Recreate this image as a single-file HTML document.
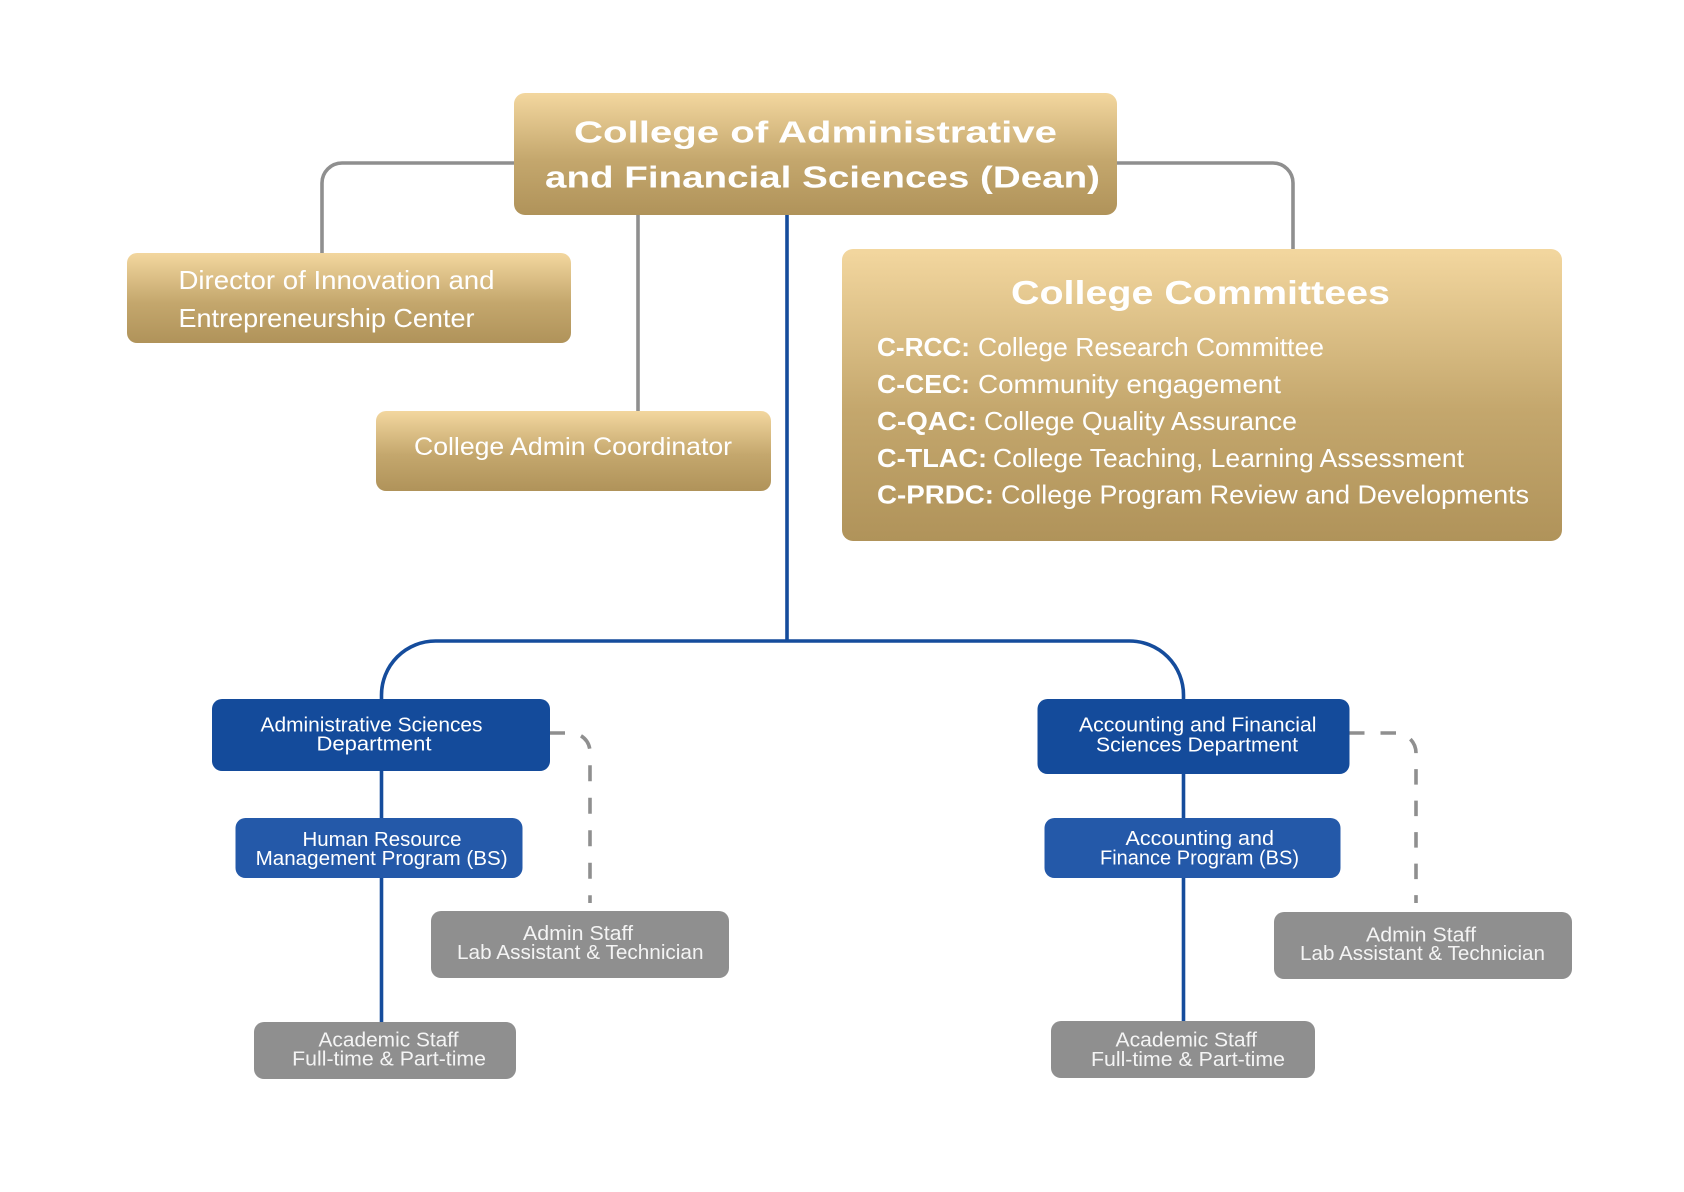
<!DOCTYPE html>
<html>
<head>
<meta charset="utf-8">
<style>
html,body{margin:0;padding:0;background:#ffffff;}
svg{display:block;}
text{font-family:"Liberation Sans",Arial,sans-serif;}
</style>
</head>
<body>
<svg width="1684" height="1192" viewBox="0 0 1684 1192" xmlns="http://www.w3.org/2000/svg">
<defs>
<linearGradient id="gold" x1="0" y1="0" x2="0" y2="1">
<stop offset="0" stop-color="#f3d79f"/>
<stop offset="0.55" stop-color="#c4a76d"/>
<stop offset="1" stop-color="#b0935a"/>
</linearGradient>
</defs>
<rect x="0" y="0" width="1684" height="1192" fill="#ffffff"/>

<!-- grey connectors top -->
<path d="M514,163 H342 A20,20 0 0 0 322,183 V254" fill="none" stroke="#8f8f8f" stroke-width="3.6"/>
<path d="M1116,163 H1273 A20,20 0 0 1 1293,183 V250" fill="none" stroke="#8f8f8f" stroke-width="3.6"/>
<path d="M638,214 V412" fill="none" stroke="#8f8f8f" stroke-width="3.6"/>

<!-- blue main connectors -->
<path d="M787,214 V641" fill="none" stroke="#154c9c" stroke-width="3.6"/>
<path d="M381.5,700 V695 A54,54 0 0 1 435.5,641 H1129.5 A54,54 0 0 1 1183.5,695 V700" fill="none" stroke="#154c9c" stroke-width="3.6"/>
<path d="M381.5,770 V1023" fill="none" stroke="#154c9c" stroke-width="3.6"/>
<path d="M1183.5,774 V1022" fill="none" stroke="#154c9c" stroke-width="3.6"/>

<!-- dashed connectors -->
<path d="M549,733 H571 A19,19 0 0 1 590,752 V903" fill="none" stroke="#8f8f8f" stroke-width="3.6" stroke-dasharray="16 16.5"/>
<path d="M1349,733 H1396 A20,20 0 0 1 1416,753 V903" fill="none" stroke="#8f8f8f" stroke-width="3.6" stroke-dasharray="15.5 16"/>

<!-- Dean box -->
<rect x="514" y="93" width="603" height="122" rx="11" fill="url(#gold)"/>
<text x="574" y="142.5" font-size="31" font-weight="bold" fill="#ffffff" textLength="483" lengthAdjust="spacingAndGlyphs">College of Administrative</text>
<text x="545" y="187.5" font-size="31" font-weight="bold" fill="#ffffff" textLength="555" lengthAdjust="spacingAndGlyphs">and Financial Sciences (Dean)</text>

<!-- Director box -->
<rect x="127" y="253" width="444" height="90" rx="10" fill="url(#gold)"/>
<text x="178.5" y="289" font-size="26" fill="#ffffff" textLength="316" lengthAdjust="spacingAndGlyphs">Director of Innovation and</text>
<text x="178.5" y="327" font-size="26" fill="#ffffff" textLength="296" lengthAdjust="spacingAndGlyphs">Entrepreneurship Center</text>

<!-- Admin Coordinator box -->
<rect x="376" y="411" width="395" height="80" rx="10" fill="url(#gold)"/>
<text x="414" y="455" font-size="25" fill="#ffffff" textLength="318" lengthAdjust="spacingAndGlyphs">College Admin Coordinator</text>

<!-- Committees box -->
<rect x="842" y="249" width="720" height="292" rx="11" fill="url(#gold)"/>
<text x="1011" y="304" font-size="33" font-weight="bold" fill="#ffffff" textLength="379" lengthAdjust="spacingAndGlyphs">College Committees</text>

<text x="877" y="356" font-size="26" font-weight="bold" fill="#ffffff" textLength="93" lengthAdjust="spacingAndGlyphs">C-RCC:</text>
<text x="978" y="356" font-size="26" fill="#ffffff" textLength="346" lengthAdjust="spacingAndGlyphs">College Research Committee</text>

<text x="877" y="393" font-size="26" font-weight="bold" fill="#ffffff" textLength="93" lengthAdjust="spacingAndGlyphs">C-CEC:</text>
<text x="978" y="393" font-size="26" fill="#ffffff" textLength="303" lengthAdjust="spacingAndGlyphs">Community engagement</text>

<text x="877" y="430" font-size="26" font-weight="bold" fill="#ffffff" textLength="100" lengthAdjust="spacingAndGlyphs">C-QAC:</text>
<text x="984" y="430" font-size="26" fill="#ffffff" textLength="313" lengthAdjust="spacingAndGlyphs">College Quality Assurance</text>

<text x="877" y="467" font-size="26" font-weight="bold" fill="#ffffff" textLength="110" lengthAdjust="spacingAndGlyphs">C-TLAC:</text>
<text x="993" y="467" font-size="26" fill="#ffffff" textLength="471" lengthAdjust="spacingAndGlyphs">College Teaching, Learning Assessment</text>

<text x="877" y="503.5" font-size="26" font-weight="bold" fill="#ffffff" textLength="117" lengthAdjust="spacingAndGlyphs">C-PRDC:</text>
<text x="1001" y="503.5" font-size="26" fill="#ffffff" textLength="528" lengthAdjust="spacingAndGlyphs">College Program Review and Developments</text>

<!-- Left department -->
<rect x="212" y="699" width="338" height="72" rx="10" fill="#144b9b"/>
<text x="260.5" y="731.7" font-size="20.5" fill="#ffffff" textLength="222" lengthAdjust="spacingAndGlyphs">Administrative Sciences</text>
<text x="316.5" y="750.7" font-size="20.5" fill="#ffffff" textLength="115" lengthAdjust="spacingAndGlyphs">Department</text>

<rect x="235.5" y="818" width="287" height="60" rx="10" fill="#2459a9"/>
<text x="302.5" y="846" font-size="20.5" fill="#ffffff" textLength="159" lengthAdjust="spacingAndGlyphs">Human Resource</text>
<text x="255.6" y="865" font-size="20.5" fill="#ffffff" textLength="252" lengthAdjust="spacingAndGlyphs">Management Program (BS)</text>

<rect x="431" y="911" width="298" height="67" rx="10" fill="#8f8f8f"/>
<text x="523" y="940" font-size="20.5" fill="#f4f4f4" textLength="110" lengthAdjust="spacingAndGlyphs">Admin Staff</text>
<text x="457" y="959" font-size="20.5" fill="#f4f4f4" textLength="246.5" lengthAdjust="spacingAndGlyphs">Lab Assistant &amp; Technician</text>

<rect x="254" y="1022" width="262" height="57" rx="10" fill="#8f8f8f"/>
<text x="318.5" y="1046.7" font-size="20.5" fill="#f4f4f4" textLength="140" lengthAdjust="spacingAndGlyphs">Academic Staff</text>
<text x="292.2" y="1065.7" font-size="20.5" fill="#f4f4f4" textLength="193.8" lengthAdjust="spacingAndGlyphs">Full-time &amp; Part-time</text>

<!-- Right department -->
<rect x="1037.5" y="699" width="312" height="75" rx="10" fill="#144b9b"/>
<text x="1079" y="731.7" font-size="20.5" fill="#ffffff" textLength="237.5" lengthAdjust="spacingAndGlyphs">Accounting and Financial</text>
<text x="1096" y="751.7" font-size="20.5" fill="#ffffff" textLength="202" lengthAdjust="spacingAndGlyphs">Sciences Department</text>

<rect x="1044.5" y="818" width="296" height="60" rx="10" fill="#2459a9"/>
<text x="1125.5" y="845" font-size="20.5" fill="#ffffff" textLength="148.5" lengthAdjust="spacingAndGlyphs">Accounting and</text>
<text x="1100" y="864.3" font-size="20.5" fill="#ffffff" textLength="199" lengthAdjust="spacingAndGlyphs">Finance Program (BS)</text>

<rect x="1274" y="912" width="298" height="67" rx="10" fill="#8f8f8f"/>
<text x="1366" y="941.7" font-size="20.5" fill="#f4f4f4" textLength="110" lengthAdjust="spacingAndGlyphs">Admin Staff</text>
<text x="1300" y="960" font-size="20.5" fill="#f4f4f4" textLength="245" lengthAdjust="spacingAndGlyphs">Lab Assistant &amp; Technician</text>

<rect x="1051" y="1021" width="264" height="57" rx="10" fill="#8f8f8f"/>
<text x="1115.5" y="1046.7" font-size="20.5" fill="#f4f4f4" textLength="141.5" lengthAdjust="spacingAndGlyphs">Academic Staff</text>
<text x="1091" y="1066" font-size="20.5" fill="#f4f4f4" textLength="194" lengthAdjust="spacingAndGlyphs">Full-time &amp; Part-time</text>
</svg>
</body>
</html>
